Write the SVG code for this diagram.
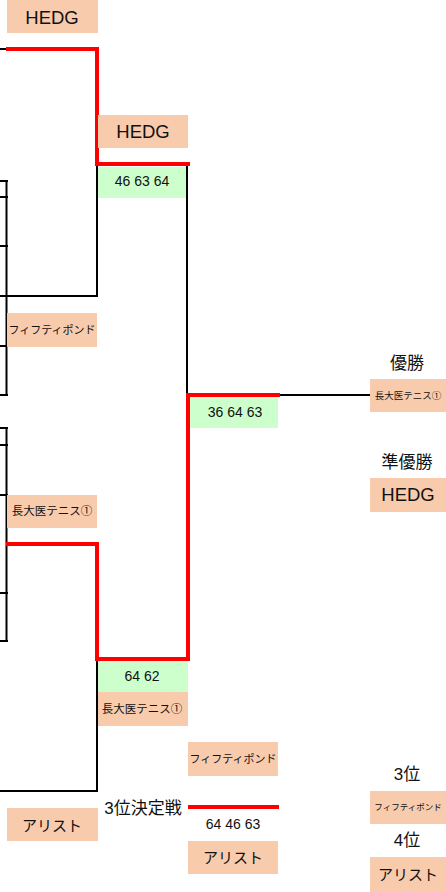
<svg xmlns="http://www.w3.org/2000/svg" width="446" height="892" viewBox="0 0 446 892">
<style>
.bg{fill:#ffffff}
.team{fill:#F8CBAD}
.score{fill:#CCFFCC}
.blk{fill:none;stroke:#000;stroke-width:2;stroke-linecap:square}
.red{fill:none;stroke:#FF0000;stroke-width:4;stroke-linecap:square;stroke-linejoin:miter}
text{font-family:"Liberation Sans","Noto Sans CJK JP",sans-serif;fill:#111;text-anchor:middle;dominant-baseline:central}
.big{font-size:18.5px}
.kana{font-size:15px}
.jp{font-size:11.5px}
.jpf{font-size:11px}
.jps{font-size:9.5px}
.jpt{font-size:8.5px}
.sc{font-size:14px}
.lbl{font-size:17px}
</style>
<rect class="bg" x="0" y="0" width="446" height="892"/>
<g id="connectors">
<path class="blk" d="M0,49 H6"/>
<path class="blk" d="M97,166 V296 H0"/>
<path class="blk" d="M187,166 V395"/>
<path class="blk" d="M6.5,181 V395"/>
<path class="blk" d="M0,181 H7 M0,197 H7 M0,246 H7 M0,346 H7 M0,395 H7"/>
<path class="blk" d="M6.5,428 V641"/>
<path class="blk" d="M0,428 H7 M0,445 H7 M0,495 H7 M0,593 H7 M0,641 H7"/>
<path class="blk" d="M278,395 H370"/>
<path class="blk" d="M97,661 V791 H0"/>
<path class="red" d="M8,49 H97 V164 H188"/>
<path class="red" d="M8,544 H97 V659 H188 V395 H278"/>
<path class="red" d="M190,807 H277"/>
</g>
<g id="n-hedg-top"><rect class="team" x="7" y="0" width="91" height="33"/><text class="big" x="52" y="17">HEDG</text></g>
<g id="n-hedg-r2"><rect class="team" x="98" y="115" width="90" height="33"/><text class="big" x="143" y="131">HEDG</text></g>
<g id="n-score1"><rect class="score" x="98" y="167" width="88" height="31"/><text class="sc" x="142" y="181">46 63 64</text></g>
<g id="n-fifty-l"><rect class="team" x="7" y="313" width="90" height="34"/><text class="jpf" x="52" y="330">フィフティポンド</text></g>
<g id="n-choudai-l"><rect class="team" x="7" y="495" width="90" height="33"/><text class="jp" x="52" y="511">長大医テニス①</text></g>
<g id="n-score-final"><rect class="score" x="190" y="397" width="88" height="31"/><text class="sc" x="235" y="412">36 64 63</text></g>
<g id="n-score2"><rect class="score" x="98" y="661" width="90" height="31"/><text class="sc" x="142" y="676">64 62</text></g>
<g id="n-choudai-r2"><rect class="team" x="98" y="692" width="90" height="34"/><text class="jp" x="142" y="709">長大医テニス①</text></g>
<g id="n-fifty-3rd"><rect class="team" x="188" y="742" width="90" height="34"/><text class="jpf" x="233" y="759">フィフティポンド</text></g>
<g id="n-arist-l"><rect class="team" x="7" y="808" width="91" height="33"/><text class="kana" x="52" y="825">アリスト</text></g>
<g id="n-3rd-match"><text class="lbl" x="143" y="808">3位決定戦</text><text class="sc" x="233" y="824">64 46 63</text></g>
<g id="n-arist-3rd"><rect class="team" x="188" y="841" width="90" height="33"/><text class="kana" x="233" y="857">アリスト</text></g>
<g id="n-champion"><text class="lbl" x="407" y="363">優勝</text><rect class="team" x="370" y="379" width="76" height="33"/><text class="jps" x="408" y="395">長大医テニス①</text></g>
<g id="n-runnerup"><text class="lbl" x="407" y="462">準優勝</text><rect class="team" x="370" y="478" width="76" height="34"/><text class="big" x="408" y="494">HEDG</text></g>
<g id="n-third"><text class="lbl" x="407" y="774">3位</text><rect class="team" x="370" y="791" width="76" height="33"/><text class="jpt" x="408" y="807">フィフティポンド</text></g>
<g id="n-fourth"><text class="lbl" x="407" y="840">4位</text><rect class="team" x="370" y="857" width="76" height="35"/><text class="kana" x="408" y="874">アリスト</text></g>
</svg>
